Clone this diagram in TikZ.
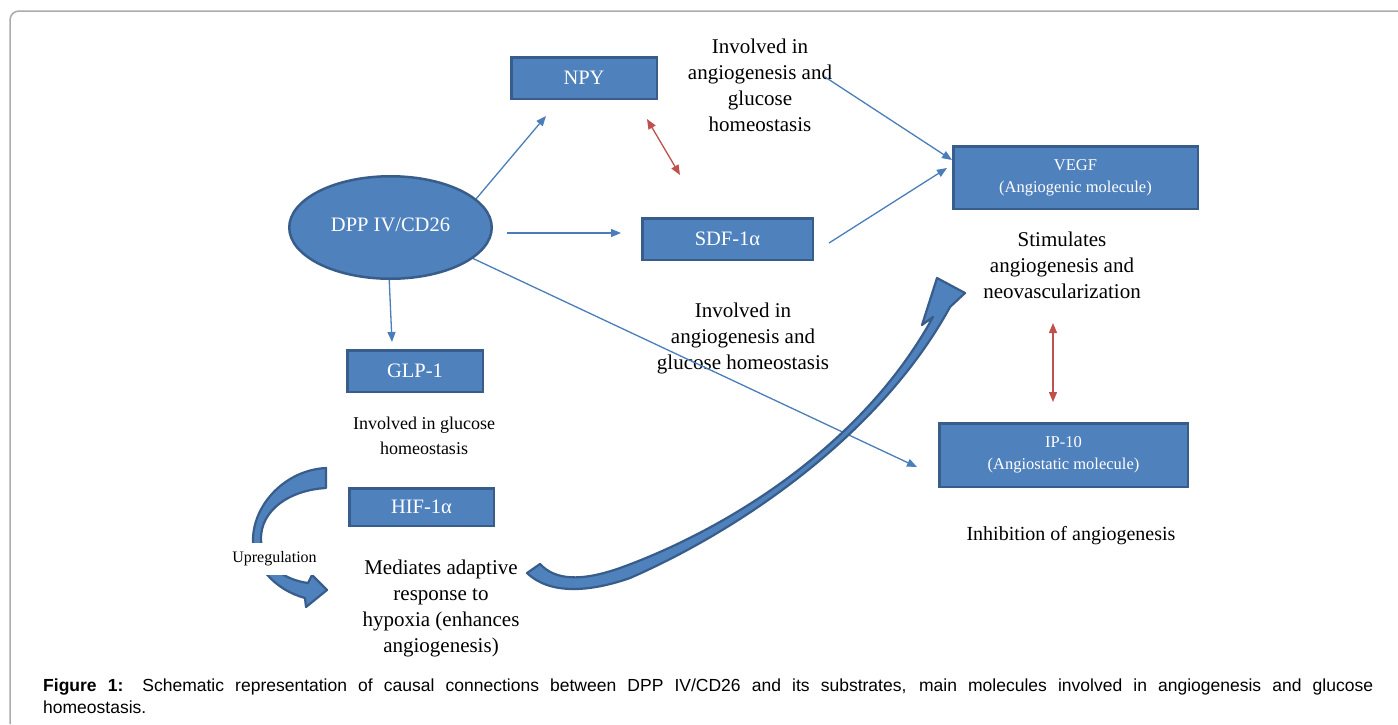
\documentclass[tikz,border=0pt]{standalone}
\usepackage{fontspec}
\setmainfont{Liberation Serif}
\newfontfamily\capfont{Liberation Sans}
\usetikzlibrary{shapes.geometric,arrows.meta}
\definecolor{boxfill}{HTML}{4F81BD}
\definecolor{boxline}{HTML}{385D8A}
\definecolor{arrblue}{HTML}{4A7EBB}
\definecolor{arrred}{HTML}{C0504D}
\definecolor{framegray}{HTML}{ABABAB}
\tikzset{
  box/.style={rectangle, fill=boxfill, draw=boxline, line width=2.5pt, text=white, inner sep=0pt, align=center, font=\fontsize{20.5}{24}\selectfont},
  smallbox/.style={box, font=\fontsize{16.5}{22}\selectfont},
  blueconn/.style={draw=arrblue, line width=1.3pt, -{Triangle[length=10pt,width=8pt]}},
  redconn/.style={draw=arrred, line width=1.3pt, {Triangle[length=10pt,width=8pt]}-{Triangle[length=10pt,width=8pt]}},
  txt/.style={align=center, inner sep=0pt, font=\fontsize{21}{26}\selectfont},
  bigarrow/.style={fill=boxfill, draw=boxline, line width=2.2pt, line join=round},
}
\begin{document}
\begin{tikzpicture}[x=1pt,y=-1pt]
\useasboundingbox (0,0) rectangle (1398,724);
\fill[white] (0,0) rectangle (1398,724);
% frame
\draw[framegray, line width=1.5pt, rounded corners=9pt] (10,724) -- (10,11) -- (1398,11);

% nodes
\node[box, minimum width=145.5pt, minimum height=41.5pt] (npy) at (584,78) {NPY};
\node[box, minimum width=170.5pt, minimum height=41.5pt] (sdf) at (727.5,239) {SDF-1α};
\node[box, minimum width=135.5pt, minimum height=41.5pt] (glp) at (415,371) {GLP-1};
\node[box, minimum width=144.5pt, minimum height=37.5pt] (hif) at (421.5,507) {HIF-1α};
\node[smallbox, minimum width=244.5pt, minimum height=62.5pt] (vegf) at (1075.5,177.5) {VEGF\\(Angiogenic molecule)};
\node[smallbox, minimum width=248.5pt, minimum height=63.5pt] (ip) at (1063.5,455) {IP-10\\(Angiostatic molecule)};

% text nodes
\node[txt] (t1) at (760,85) {Involved in\\angiogenesis and\\glucose\\homeostasis};
\node[txt] (t2) at (1062,265) {Stimulates\\angiogenesis and\\neovascularization};
\node[txt] (t3) at (743,338) {Involved in\\angiogenesis and\\glucose homeostasis};
\node[txt, font=\fontsize{18}{25}\selectfont] (t4) at (424,436) {Involved in glucose\\homeostasis};
\node[txt] (t5) at (441,608) {Mediates adaptive\\response to\\hypoxia (enhances\\angiogenesis)};
\node[txt, font=\fontsize{20}{24}\selectfont] (t6) at (1071,536) {Inhibition of angiogenesis};

% connector end points
\coordinate (npyin) at (546,116);
\coordinate (dppr) at (507,233);
\coordinate (sdfin) at (621,233);
\coordinate (glpin) at (392,342);
\coordinate (dppip) at (472,258);
\coordinate (ipin) at (917,467);
\coordinate (t1out) at (825,77);
\coordinate (vegfin1) at (952,160);
\coordinate (sdfout) at (829,243);
\coordinate (vegfin2) at (947,168);
\coordinate (npyr) at (647,119);
\coordinate (sdfr) at (680,175);
\coordinate (t2r) at (1053,323);
\coordinate (ipr) at (1053,402);

% thin connectors (under the ellipse)
\draw[blueconn] (476,199) -- (npyin);
\draw[blueconn] (dppr) -- (sdfin);
\draw[blueconn] (389,275) -- (glpin);
\draw[blueconn] (dppip) -- (ipin);
\draw[blueconn] (t1out) -- (vegfin1);
\draw[blueconn] (sdfout) -- (vegfin2);
\draw[redconn] (npyr) -- (sdfr);
\draw[redconn] (t2r) -- (ipr);

% ellipse
\node[ellipse, fill=boxfill, draw=boxline, line width=2.5pt, text=white, inner sep=0pt,
      minimum width=202.5pt, minimum height=102.5pt, font=\fontsize{20.5}{24}\selectfont]
      (dpp) at (390.5,227.5) {\raisebox{5pt}{DPP IV/CD26}};

% big curved arrow
\filldraw[bigarrow] (540,564) .. controls (555,580) and (580,582) .. (620,568)
  .. controls (720,532) and (860,450) .. (933,317)
  -- (922,325) -- (937,278) -- (965,293) -- (950,307)
  .. controls (880,435) and (740,530) .. (630,578)
  .. controls (590,592) and (550,595) .. (527,573)
  -- cycle;

% small curved arrow (upregulation)
\filldraw[bigarrow] (326,468) .. controls (285,470) and (253,505) .. (253,540)
  .. controls (253,565) and (275,590) .. (305,598) -- (306,607) -- (327,590) -- (312,575) -- (308,583)
  .. controls (285,580) and (262,565) .. (261,540)
  .. controls (260,510) and (290,490) .. (326,488) -- cycle;
\node[fill=white, inner xsep=2pt, inner ysep=9pt, font=\fontsize{16}{20}\selectfont] (up) at (274.5,559) {Upregulation};

% caption
\node[anchor=north west, inner sep=0pt, text width=1330pt, align=justify,
      font=\capfont\fontsize{17.5}{22}\selectfont] (cap) at (43,678.5)
  {\textbf{Figure 1:} Schematic representation of causal connections between DPP IV/CD26 and its substrates, main molecules involved in angiogenesis and glucose\linebreak homeostasis.};
\end{tikzpicture}
\end{document}
